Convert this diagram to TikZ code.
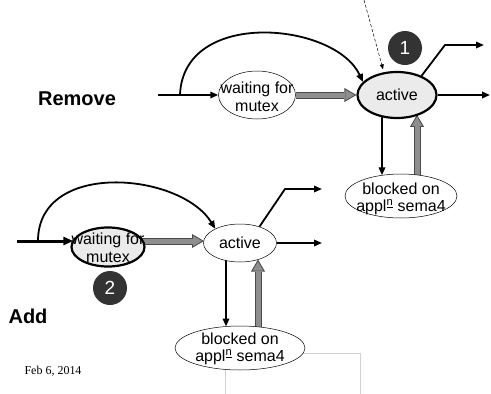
\documentclass[tikz,border=0pt]{standalone}
\usepackage{fontspec}
\setmainfont{Liberation Sans}
\newfontfamily\datefont{Liberation Serif}
\usetikzlibrary{shapes.geometric,arrows.meta,backgrounds,calc}

\definecolor{statefill}{HTML}{EBEBEB}
\definecolor{badgecol}{HTML}{333333}
\definecolor{fatfill}{HTML}{8E8E8E}
\definecolor{fatedge}{HTML}{4A4A4A}
\definecolor{framegray}{HTML}{D2D2D2}

% thick grey transition arrow: dark outline with a grey body
\newcommand\fatarrow[2]{%
  \draw[line width=7pt, fatedge, -{Triangle[length=12pt,width=14pt,line width=0pt]}] #1 -- #2;
  \draw[line width=5pt, fatfill, shorten >=2pt, -{Triangle[length=9pt,width=10.5pt,line width=0pt]}] #1 -- #2;}

\begin{document}
\begin{tikzpicture}[x=1pt,y=-1pt,
  state/.style={ellipse, draw=black, fill=white, line width=0.5pt, inner sep=0pt},
  current/.style={state, fill=statefill, line width=2.2pt},
  statetext/.style={align=center, inner sep=0pt, font=\fontsize{16}{17.5}\selectfont},
  badgenode/.style={circle, fill=badgecol, text=white, minimum size=34pt, inner sep=0pt,
    font=\fontsize{19}{19}\selectfont},
  heading/.style={inner sep=0pt, font=\fontsize{20}{20}\selectfont\bfseries},
  flow/.style={line width=1.8pt, -{Triangle[length=8pt,width=6.5pt]}},
  bigflow/.style={line width=3pt, -{Triangle[length=10pt,width=8pt]}},
  hintline/.style={line width=0.5pt, dashed, dash pattern=on 3pt off 2pt, -{Triangle[length=5pt,width=4pt]}}
]
\useasboundingbox (0,0) rectangle (491,394);

% ---------- Remove ----------
\node[heading] (rm) at (77,99) {Remove};
\node[state, minimum width=77pt, minimum height=48pt,
  label={[statetext, yshift=-2pt]center:waiting for\\mutex}] (w1) at (257,95) {};
\node[current, minimum width=79pt, minimum height=46pt,
  label={[statetext]center:active}] (a1) at (397,95) {};
\node[state, minimum width=112pt, minimum height=44pt,
  label={[statetext, yshift=-3pt]center:blocked on\\appl\textsuperscript{\underline{n}} sema4}] (b1) at (401,196) {};
\node[badgenode] (n1) at (405,48) {1};

\coordinate (in1) at (158,95);
\coordinate (br1) at (180,95);
\coordinate (k1) at (445,45);
\coordinate (o1) at (484,45);
\coordinate (o1b) at (490,95);
\coordinate (hint) at (364,0);

% ---------- Add ----------
\node[heading] (add) at (28,316) {Add};
\node[current, minimum width=73pt, minimum height=39pt,
  label={[statetext, yshift=-1pt]center:waiting for\\mutex}] (w2) at (108,247) {};
\node[state, minimum width=73pt, minimum height=38pt,
  label={[statetext]center:active}] (a2) at (240,243) {};
\node[state, minimum width=130pt, minimum height=44pt,
  label={[statetext, yshift=-1pt]center:blocked on\\appl\textsuperscript{\underline{n}} sema4}] (b2) at (240,348) {};
\node[badgenode] (n2) at (110,288) {2};

\coordinate (in2) at (17,241);
\coordinate (br2) at (38,241);
\coordinate (k2) at (285,189);
\coordinate (o2) at (322,189);
\coordinate (o2b) at (322,243);

\node[inner sep=0pt, font=\datefont\fontsize{12}{12}\selectfont] (date) at (53,371) {Feb 6, 2014};

\begin{scope}[on background layer]
  % frame partly hidden behind the lower state
  \draw[framegray, line width=0.6pt] (225,396) -- (225,353) -- (360,353) -- (360,396);

  % Remove transitions
  \draw[flow] (in1) -- (w1.west);
  \draw[flow] (br1) .. controls (183,8) and (335,22) .. (a1.159);
  \fatarrow{(w1.east)}{(a1.west)}
  \draw[flow] (a1.38) -- (k1) -- (o1);
  \draw[flow] (a1.east) -- (o1b);
  \draw[flow] ([xshift=-15pt]a1.center) -- ([xshift=-19pt,yshift=20.7pt]b1.center);
  \fatarrow{([xshift=16pt,yshift=21pt]b1.center)}{([xshift=20pt,yshift=-19.8pt]a1.center)}
  \draw[hintline, shorten >=3pt] (hint) -- (a1.120);

  % Add transitions
  \draw[bigflow] (in2) -- ([xshift=-34.7pt,yshift=6pt]w2.center);
  \draw[flow] (br2) .. controls (38,160) and (180,172) .. (a2.150);
  \fatarrow{([xshift=30pt,yshift=6pt]w2.center)}{([xshift=-36pt,yshift=2pt]a2.center)}
  \draw[flow] (a2.40) -- (k2) -- (o2);
  \draw[flow] (a2.east) -- (o2b);
  \draw[flow] ([xshift=-14pt]a2.center) -- ([xshift=-14pt,yshift=21.5pt]b2.center);
  \fatarrow{([xshift=18pt,yshift=21.2pt]b2.center)}{([xshift=18pt,yshift=-16.5pt]a2.center)}
\end{scope}
\end{tikzpicture}
\end{document}
